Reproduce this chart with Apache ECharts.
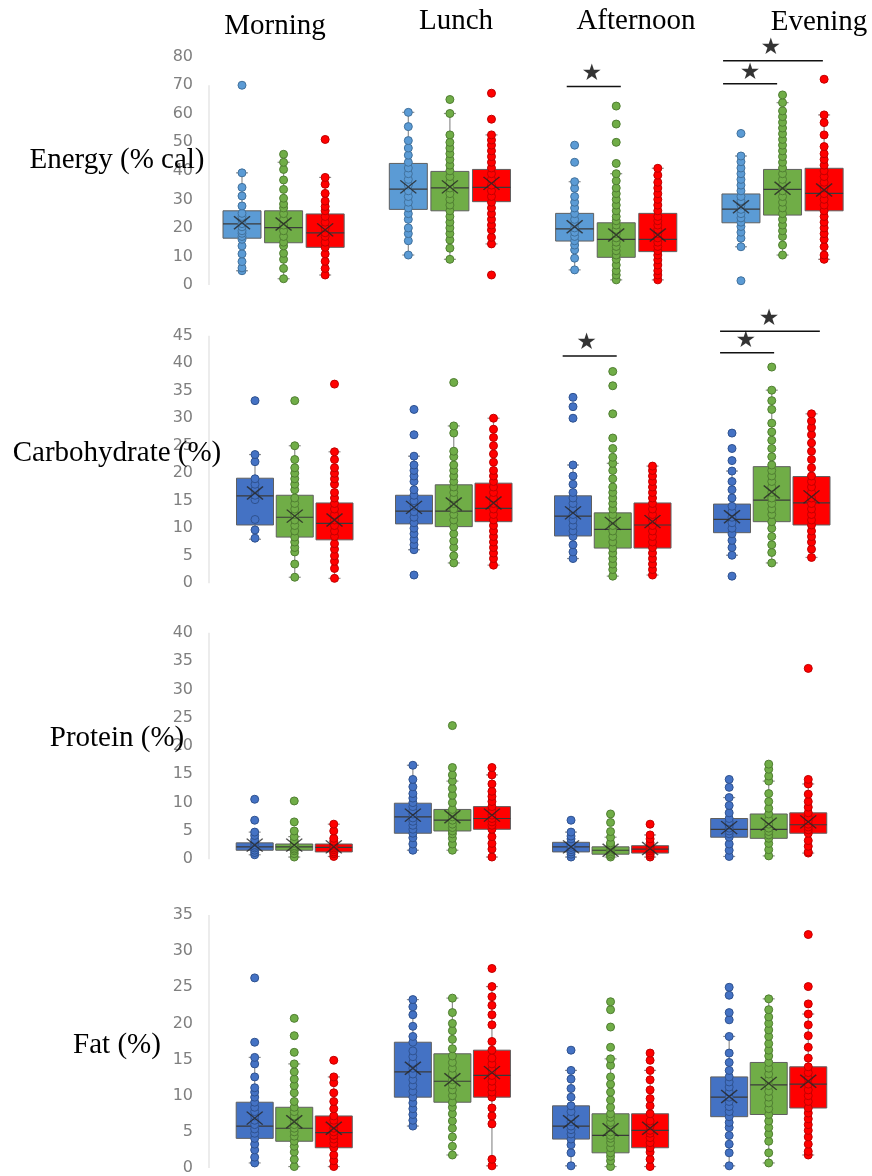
<!DOCTYPE html>
<html>
<head>
<meta charset="utf-8">
<script src="https://cdn.jsdelivr.net/npm/echarts@6/dist/echarts.min.js"></script>
<style>
html, body { margin: 0; padding: 0; background: #fff; }
#chart { width: 872px; height: 1176px; }
</style>
</head>
<body>
<div id="chart"></div>
<script>
const meals = ['Morning', 'Lunch', 'Afternoon', 'Evening'];
const nutrients = ['Energy (% cal)', 'Carbohydrate (%)', 'Protein (%)', 'Fat (%)'];
const yMax = [80, 45, 40, 35];
const yStep = [10, 5, 5, 5];

// each row: [min, q1, median, q3, max]; order per meal: blue, green, red
const energyBox = [
  [5.0, 16.4, 21.4, 26.0, 39.3], [2.2, 14.8, 20.1, 26.0, 43.0], [3.5, 13.2, 18.3, 24.9, 37.7],
  [10.5, 26.5, 33.6, 42.6, 60.5], [9.0, 26.0, 34.0, 39.8, 60.1], [14.4, 29.2, 34.2, 40.5, 52.6],
  [5.3, 15.4, 19.7, 25.1, 36.2], [1.8, 9.7, 16.0, 21.8, 39.0], [1.8, 11.7, 16.0, 25.1, 40.9],
  [13.4, 21.8, 26.6, 31.9, 45.2], [10.5, 24.5, 33.5, 40.5, 63.9], [9.0, 26.0, 32.1, 40.9, 59.6]
];
const energyMean = [21.8, 21.4, 19.3, 34.4, 34.4, 35.6, 20.4, 17.5, 17.5, 27.4, 33.9, 33.3];
const energyPts = [
  [5, 6, 8.2, 10.9, 13.7, 16, 17, 18.1, 19, 20.4, 21.5, 22.8, 24, 25.1, 27.7, 31.2, 34.2, 39.3, 70],
  [2.2, 5.8, 9, 11.1, 13.7, 15, 17, 19, 21, 23, 25, 27, 28.4, 30.4, 33.5, 36.8, 40.5, 43, 45.8],
  [3.5, 5.8, 8.3, 10.9, 13.2, 15, 17, 18.3, 20, 22, 24, 26, 27.5, 29.4, 32.1, 35.3, 37.7, 51],
  [10.5, 15.5, 18, 20, 23, 25, 27, 29, 31, 33, 35, 37, 39, 41, 43, 45.5, 48, 50.6, 55.5, 60.5],
  [9, 12.9, 15.8, 18, 20, 22, 24, 26, 28, 30, 32, 34, 36, 38, 40, 42, 44, 46, 48, 50, 52.6, 60.1, 65],
  [3.5, 14.4, 16.7, 19.3, 21, 23, 25, 27, 29, 31, 33, 35, 37, 39, 41, 43, 45, 47, 49, 50.8, 52.6, 58.1, 67.2],
  [5.3, 9.4, 12.3, 14, 15.5, 17, 18.5, 20, 21.5, 23, 25, 27, 29, 31, 33.9, 36.2, 43, 49],
  [1.8, 3.5, 5, 7, 9, 10.5, 12, 13.5, 15, 16.5, 18, 19.5, 21, 22.5, 24, 26, 28, 30, 32, 34, 36.5, 39, 42.6, 50, 56.4, 62.7],
  [1.8, 3.5, 5, 7, 8.8, 10.5, 12, 13.5, 15, 16.5, 18, 19.5, 21, 22.5, 24, 26, 28, 30, 32, 34, 36, 38.5, 40.9],
  [1.5, 13.4, 16.4, 18.5, 20.5, 22, 23.5, 25, 26.5, 28, 29.5, 31, 33, 35, 37, 39, 41, 43.2, 45.2, 53.1],
  [10.5, 14, 17, 19, 21, 23, 25, 27, 29, 31, 33, 35, 37, 39, 41, 43, 45, 47, 49, 51, 53, 55, 57, 59, 61, 63.9, 66.6],
  [9, 10.5, 13.4, 16, 18, 20, 22, 24, 26, 28, 30, 32, 34, 36, 38, 40, 42, 44, 46, 48.5, 52.6, 56.9, 59.6, 72.1]
];

const carbBox = [
  [8.0, 10.6, 15.9, 19.1, 23.4], [1.1, 8.4, 12.0, 16.0, 25.0], [0.9, 7.9, 10.9, 14.6, 23.9],
  [6.1, 10.8, 13.1, 16.0, 23.1], [3.7, 10.3, 13.1, 17.9, 28.6], [3.3, 11.2, 13.6, 18.2, 30.0],
  [4.5, 8.6, 12.2, 15.9, 21.5], [1.3, 6.4, 9.8, 12.8, 21.8], [1.5, 6.4, 10.6, 14.6, 21.3],
  [5.1, 9.2, 11.6, 14.4, 20.4], [3.7, 11.2, 15.1, 21.2, 35.1], [4.7, 10.6, 14.6, 19.4, 30.8]
];
const carbMean = [16.4, 12.2, 11.5, 13.8, 14.4, 14.6, 12.8, 10.9, 11.2, 12.1, 16.6, 15.7];
const carbPts = [
  [8.2, 9.7, 11.6, 15.2, 16, 17, 18, 19, 22.1, 23.4, 33.2],
  [1.1, 3.5, 5.7, 6.5, 7.5, 8.4, 9.5, 10.5, 11.5, 12.5, 13.5, 14.5, 15.5, 17, 18, 19, 20, 21, 22.5, 25, 33.2],
  [0.9, 2.7, 4, 5, 6.2, 7.2, 8.5, 9.5, 10.5, 11.5, 12.5, 13.5, 14.5, 15.5, 16.5, 18, 19, 20, 21, 22.5, 23.9, 36.2],
  [1.5, 6.1, 7, 8, 9, 10, 11, 12, 13, 14, 15, 16, 17, 18.5, 19.5, 20.5, 21.5, 23.1, 27, 31.6],
  [3.7, 5, 6.5, 7.7, 9, 10.3, 11.5, 12.5, 13.5, 14.5, 15.5, 16.5, 17.5, 18.5, 19.5, 20.5, 21.5, 23, 24, 27.3, 28.6, 36.5],
  [3.3, 4.5, 5.5, 6.5, 7.5, 8.5, 9.5, 10.5, 11.5, 12.5, 13.5, 14.5, 15.5, 16.5, 17.5, 18.5, 19.5, 20.5, 22, 23.5, 25, 26.5, 28, 30],
  [4.5, 5.7, 7, 8.5, 9.5, 10.5, 11.5, 12.5, 13.5, 14.5, 15.5, 16.5, 18, 19.5, 21.5, 30, 32.1, 33.8],
  [1.3, 2.5, 3.5, 4.5, 5.5, 6.4, 7.5, 8.5, 9.5, 10.5, 11.5, 12.5, 13.5, 14.5, 15.5, 16.5, 17.5, 19, 20.5, 21.8, 22.9, 24.5, 26.4, 30.8, 35.9, 38.5],
  [1.5, 2.5, 3.5, 4.5, 5.5, 6.5, 7.5, 8.5, 9.5, 10.5, 11.5, 12.5, 13.5, 14.5, 15.5, 16.5, 17.5, 18.5, 19.5, 20.5, 21.3],
  [1.3, 5.1, 6.5, 7.8, 9, 10, 11, 12, 13, 14, 15.5, 17, 18.5, 20.4, 22.3, 24.5, 27.3],
  [3.7, 5.6, 7, 8.5, 10, 11.2, 12.5, 13.5, 14.5, 15.5, 16.5, 17.5, 18.5, 19.5, 20.5, 21.5, 23, 24.5, 26, 27.5, 29.1, 31.6, 33.2, 35.1, 39.3],
  [4.7, 6.2, 7.5, 8.5, 9.5, 10.6, 11.5, 12.5, 13.5, 14.5, 15.5, 16.5, 17.5, 18.5, 19.5, 21, 22.5, 24, 25.5, 27, 28.3, 29.5, 30.8]
];

const proteinBox = [
  [0.8, 1.6, 2.2, 2.9, 4.8], [0.4, 1.6, 2.2, 2.7, 4.0], [0.5, 1.3, 2.1, 2.7, 6.2],
  [1.6, 4.6, 7.5, 9.9, 16.6], [1.6, 5.0, 6.9, 8.8, 13.8], [0.4, 5.3, 7.2, 9.3, 14.9],
  [0.4, 1.3, 2.2, 3.0, 4.8], [0.4, 0.9, 1.6, 2.2, 3.9], [0.4, 1.1, 1.8, 2.4, 4.3],
  [0.5, 3.9, 5.3, 7.2, 10.9], [0.6, 3.7, 5.3, 8.0, 13.8], [1.1, 4.6, 6.1, 8.2, 13.3]
];
const proteinMean = [2.5, 2.5, 2.2, 7.8, 7.5, 7.8, 2.2, 1.6, 1.9, 5.6, 6.2, 6.6];
const proteinPts = [
  [0.8, 1.2, 1.6, 2, 2.3, 2.6, 3, 3.5, 4.2, 4.8, 6.9, 10.6],
  [0.4, 1, 1.5, 1.8, 2.1, 2.4, 2.8, 3.3, 4, 5, 6.6, 10.3],
  [0.5, 1, 1.3, 1.7, 2, 2.3, 2.7, 3.2, 3.7, 5, 6.2],
  [1.6, 2.7, 3.8, 4.6, 5.3, 6, 6.7, 7.3, 8, 8.6, 9.3, 10, 10.8, 11.6, 12.8, 14.1, 16.6],
  [1.6, 2.7, 3.7, 4.5, 5, 5.6, 6.2, 6.9, 7.5, 8.2, 8.8, 10, 11.3, 12.5, 13.8, 14.9, 16.2, 23.6],
  [0.4, 1.8, 2.8, 4, 5.3, 6, 6.6, 7.2, 7.8, 8.5, 9.3, 10.2, 11.1, 12, 13.3, 14.9, 16.2],
  [0.4, 0.9, 1.3, 1.7, 2.1, 2.5, 3, 3.6, 4.1, 4.8, 6.9],
  [0.4, 0.7, 1, 1.3, 1.6, 1.9, 2.2, 2.6, 2.9, 3.9, 4.9, 6.5, 8],
  [0.4, 0.8, 1.1, 1.5, 1.8, 2.1, 2.4, 2.9, 3.6, 4.3, 6.2],
  [0.5, 1.6, 2.7, 3.9, 4.5, 5, 5.5, 6, 6.6, 7.2, 8.2, 9.5, 10.9, 12.7, 14.1],
  [0.6, 1.7, 2.8, 3.7, 4.3, 4.9, 5.5, 6.2, 7, 8, 9, 10.2, 11.6, 13.8, 14.7, 15.9, 16.8],
  [1.1, 1.3, 2.3, 3.3, 4.6, 5.2, 5.7, 6.2, 6.8, 7.4, 8.2, 9.2, 10.2, 11.5, 13.3, 14.1, 33.7]
];

const fatBox = [
  [0.7, 4.1, 5.8, 9.1, 15.3], [0.2, 3.7, 5.5, 8.4, 14.4], [0.2, 2.8, 4.9, 7.2, 12.6],
  [5.8, 9.8, 13.3, 17.4, 23.3], [1.8, 9.1, 12.0, 15.8, 23.5], [0.3, 9.8, 12.8, 16.3, 25.1],
  [0.3, 4.0, 5.8, 8.6, 13.5], [0.2, 2.1, 4.5, 7.5, 15.1], [0.2, 2.8, 5.2, 7.5, 13.5],
  [0.3, 7.1, 9.8, 12.6, 18.2], [0.7, 7.4, 11.5, 14.6, 23.4], [1.8, 8.3, 11.6, 14.0, 21.3]
];
const fatMean = [6.9, 6.4, 5.5, 13.8, 12.2, 13.2, 6.4, 5.3, 5.5, 9.9, 11.7, 12.0];
const fatPts = [
  [0.7, 1.5, 2.5, 3.3, 4.1, 4.8, 5.4, 6, 6.6, 7.2, 7.8, 8.4, 9.1, 9.8, 10.5, 11.1, 12.6, 14.4, 15.3, 17.4, 26.3],
  [0.2, 1.2, 2.2, 3, 3.7, 4.4, 5, 5.5, 6, 6.6, 7.2, 7.8, 8.4, 9.2, 10.4, 11.4, 12.3, 13.3, 14.4, 16, 18.3, 20.7],
  [0.2, 1, 1.8, 2.8, 3.4, 4, 4.5, 5, 5.5, 6, 6.6, 7.2, 8.2, 9.2, 10.4, 11.8, 12.6, 14.9],
  [5.8, 6.6, 7.4, 8.2, 9, 9.8, 10.6, 11.4, 12.2, 13, 13.8, 14.6, 15.4, 16.2, 17.4, 18.2, 19.6, 21.2, 22.3, 23.3],
  [1.8, 3, 4.3, 5.5, 6.5, 7.5, 8.4, 9.1, 10, 10.8, 11.5, 12.2, 13, 13.8, 14.6, 15.5, 16.5, 17.8, 19, 20, 21.5, 23.5],
  [0.3, 1.2, 6.1, 7.2, 8.3, 9.8, 10.5, 11.2, 12, 12.8, 13.6, 14.4, 15.2, 16.3, 17.5, 19.8, 21.2, 22.5, 23.7, 25.1, 27.6],
  [0.3, 2.1, 3.2, 4, 4.7, 5.3, 5.8, 6.4, 7, 7.8, 8.6, 9.8, 11, 12.3, 13.5, 16.3],
  [0.2, 1, 1.6, 2.1, 2.8, 3.5, 4.1, 4.5, 5, 5.6, 6.3, 7, 7.5, 8.4, 9.4, 10.5, 11.6, 12.6, 14.2, 15.1, 16.7, 19.5, 21.9, 23],
  [0.2, 1.2, 2.2, 2.8, 3.5, 4.2, 4.8, 5.2, 5.8, 6.5, 7.5, 8.6, 9.6, 10.8, 12.2, 13.5, 14.9, 15.9],
  [0.3, 2.1, 3.3, 4.5, 5.6, 6.3, 7.1, 7.8, 8.5, 9.2, 9.8, 10.5, 11.2, 11.9, 12.6, 13.5, 14.6, 15.9, 18.2, 20.5, 21.5, 23.9, 25],
  [0.7, 2.1, 3.7, 4.7, 5.6, 6.5, 7.4, 8.2, 9, 9.8, 10.6, 11.4, 12.2, 13, 13.8, 14.6, 15.5, 16.3, 17.2, 18.2, 19.1, 20, 20.9, 21.9, 23.4],
  [1.8, 2.3, 3.3, 4.3, 5.2, 6, 6.8, 7.6, 8.3, 9.2, 10, 10.8, 11.6, 12.4, 13.2, 14, 15.2, 16.7, 18.3, 19.8, 21.3, 22.7, 25.1, 32.3]
];

// significance bars: [panel, fromSlot, toSlot, value]; stars: [panel, slot, value]
const sigLines = [
  [0, 7.81, 9.11, 69.6], [0, 11.57, 12.87, 70.5], [0, 11.57, 13.97, 78.6],
  [1, 7.74, 9.10, 41.3], [1, 11.70, 13.06, 41.9], [1, 11.70, 14.21, 45.8]
];
const sigStars = [
  [0, 8.41, 73.9], [0, 12.22, 74.4], [0, 12.72, 82.9],
  [1, 8.34, 43.6], [1, 12.35, 44.0], [1, 12.93, 48.0]
];

const boxes = [energyBox, carbBox, proteinBox, fatBox];
const means = [energyMean, carbMean, proteinMean, fatMean];
const points = [energyPts, carbPts, proteinPts, fatPts];

// layout of each panel
const layout = [
  { top: 56.7, zero: 285, x0: 242, unit: 41.58, boxW: 38, blue: '#5B9BD5', blueEdge: '#41719C', axisTo: 70 },
  { top: 335.7, zero: 583.3, x0: 255, unit: 39.75, boxW: 37, blue: '#4472C4', blueEdge: '#2F528F', axisTo: 45 },
  { top: 632.7, zero: 859.3, x0: 254.7, unit: 39.54, boxW: 37, blue: '#4472C4', blueEdge: '#2F528F', axisTo: 40 },
  { top: 915, zero: 1168.3, x0: 254.7, unit: 39.54, boxW: 37, blue: '#4472C4', blueEdge: '#2F528F', axisTo: 35 }
];
const axisLeft = 209;
const xMax = 14.7;

function boxRenderer(boxW, color) {
  return function (params, api) {
    const x = api.value(0);
    const pMin = api.coord([x, api.value(1)]);
    const pQ1 = api.coord([x, api.value(2)]);
    const pMed = api.coord([x, api.value(3)]);
    const pQ3 = api.coord([x, api.value(4)]);
    const pMax = api.coord([x, api.value(5)]);
    const cx = pMin[0];
    const h = boxW / 2;
    const cap = 6;
    const wStyle = { stroke: '#8f8f8f', lineWidth: 1.2 };
    return {
      type: 'group',
      children: [
        { type: 'line', shape: { x1: cx, y1: pMax[1], x2: cx, y2: pMin[1] }, style: wStyle },
        { type: 'line', shape: { x1: cx - cap, y1: pMax[1], x2: cx + cap, y2: pMax[1] }, style: wStyle },
        { type: 'line', shape: { x1: cx - cap, y1: pMin[1], x2: cx + cap, y2: pMin[1] }, style: wStyle },
        { type: 'rect', shape: { x: cx - h, y: pQ3[1], width: boxW, height: pQ1[1] - pQ3[1] },
          style: { fill: color, stroke: '#5f5f5f', lineWidth: 1 } },
        { type: 'line', shape: { x1: cx - h, y1: pMed[1], x2: cx + h, y2: pMed[1] },
          style: { stroke: '#3a3a3a', lineWidth: 1.2 } }
      ]
    };
  };
}

const grid = [], xAxis = [], yAxis = [], series = [];
layout.forEach((p, i) => {
  const xMin = -(p.x0 - axisLeft) / p.unit;
  grid.push({ left: axisLeft, top: p.top, height: p.zero - p.top, width: (xMax - xMin) * p.unit });
  xAxis.push({ gridIndex: i, type: 'value', min: xMin, max: xMax, show: false });
  yAxis.push({
    gridIndex: i, type: 'value', min: 0, max: yMax[i], interval: yStep[i],
    axisLine: { show: false },
    axisTick: { show: false },
    splitLine: { show: false },
    axisLabel: { color: '#7f7f7f', fontSize: 16, fontFamily: 'DejaVu Sans', margin: 16 }
  });
  // vertical axis rule
  series.push({
    type: 'line', xAxisIndex: i, yAxisIndex: i, z: 1, symbol: 'none', silent: true,
    lineStyle: { color: '#d9d9d9', width: 1 },
    data: [[xMin, 0], [xMin, p.axisTo]]
  });

  const fills = [p.blue, '#70AD47', '#FF0000'];
  const edges = [p.blueEdge, '#507E32', '#C00000'];
  for (let g = 0; g < 3; g++) {
    const boxData = [], ptData = [];
    meals.forEach((m, k) => {
      const j = k * 3 + g;
      boxData.push([k * 4 + g].concat(boxes[i][j]));
      points[i][j].forEach(v => ptData.push([k * 4 + g, v]));
    });
    series.push({
      type: 'custom', xAxisIndex: i, yAxisIndex: i, z: 2,
      renderItem: boxRenderer(p.boxW, fills[g]),
      encode: { x: 0, y: [1, 2, 3, 4, 5] },
      data: boxData
    });
    series.push({
      type: 'scatter', xAxisIndex: i, yAxisIndex: i, z: 3, clip: false,
      symbol: 'circle', symbolSize: 8,
      itemStyle: { color: fills[g], borderColor: edges[g], borderWidth: 1, opacity: 1 },
      data: ptData
    });
  }
  series.push({
    type: 'scatter', xAxisIndex: i, yAxisIndex: i, z: 4,
    symbol: 'path://M0,0L10,8M10,0L0,8', symbolSize: [16, 13],
    itemStyle: { color: 'rgba(0,0,0,0)', borderColor: '#262626', borderWidth: 1.4 },
    data: means[i].map((v, j) => [Math.floor(j / 3) * 4 + (j % 3), v])
  });
});

sigLines.forEach(s => {
  series.push({
    type: 'line', xAxisIndex: s[0], yAxisIndex: s[0], z: 5, clip: false,
    symbol: 'none', lineStyle: { color: '#111', width: 1.5 },
    data: [[s[1], s[3]], [s[2], s[3]]]
  });
});
series.push(...[0, 1].map(pi => ({
  type: 'scatter', xAxisIndex: pi, yAxisIndex: pi, z: 5, clip: false,
  symbolSize: 1, itemStyle: { color: 'rgba(0,0,0,0)' },
  label: { show: true, position: 'inside', formatter: '★', color: '#000', fontSize: 23, fontFamily: 'DejaVu Sans' },
  data: sigStars.filter(s => s[0] === pi).map(s => [s[1], s[2]])
})));

const headerPos = [[275, 26.4], [456, 21.7], [636, 21.7], [819, 22.8]];
const rowLabelY = [160, 453.7, 738.7, 1045.4];
const textFont = { fontSize: 29, fontFamily: 'Liberation Serif', fill: '#000', textAlign: 'center', textVerticalAlign: 'middle' };
const graphic = [];
meals.forEach((m, k) => {
  graphic.push({ type: 'text', x: headerPos[k][0], y: headerPos[k][1], style: Object.assign({ text: m }, textFont) });
});
nutrients.forEach((n, k) => {
  graphic.push({ type: 'text', x: 117, y: rowLabelY[k], z: 10, style: Object.assign({ text: n }, textFont) });
});

const chart = echarts.init(document.getElementById('chart'));
chart.setOption({
  animation: false,
  backgroundColor: '#fff',
  grid, xAxis, yAxis, series, graphic
});
</script>
</body>
</html>
